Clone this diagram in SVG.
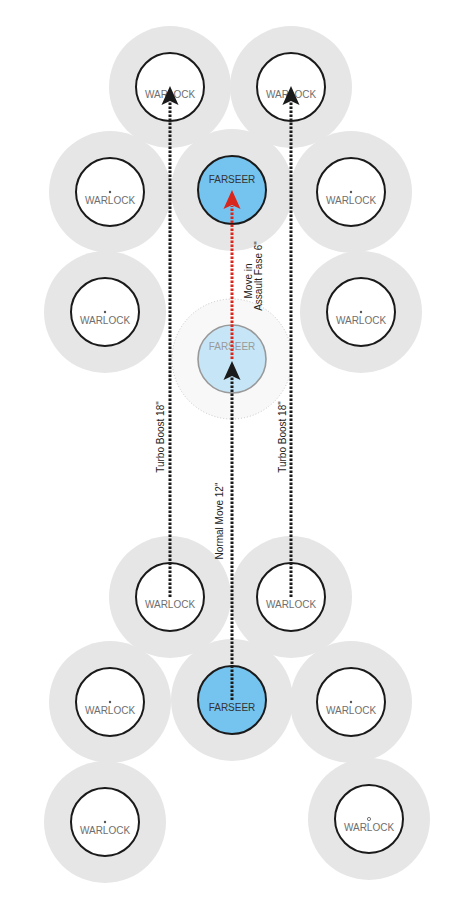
<svg xmlns="http://www.w3.org/2000/svg" width="464" height="906" viewBox="0 0 464 906">
<style>
.halo{fill:#e6e6e6}
.base{fill:#fff;stroke:#1a1a1a;stroke-width:2}
.fs{fill:#75c4ef;stroke:#1a1a1a;stroke-width:2}
.ghost{fill:#c6e6f7;stroke:#999;stroke-width:1.6}
.ghalo{fill:#f8f8f8;stroke:#bbb;stroke-width:0.8;stroke-dasharray:1 2}
.wl{font-family:"Liberation Sans",Arial,sans-serif;font-size:10px;fill:#6e6e6e;text-anchor:middle}
.fl{font-family:"Liberation Sans",Arial,sans-serif;font-size:10px;fill:#333;text-anchor:middle}
.gl{font-family:"Liberation Sans",Arial,sans-serif;font-size:10px;fill:#9a9a9a;text-anchor:middle}
.lbl{font-family:"Liberation Sans",Arial,sans-serif;font-size:10px;fill:#222;text-anchor:middle}
.dot{fill:#555}
.mv{fill:none;stroke:#1a1a1a;stroke-width:3;stroke-dasharray:2.6 1.4}
.mvr{fill:none;stroke:#d8261c;stroke-width:3;stroke-dasharray:2.6 1.4}
</style>
<defs>
<path id="ah" d="M0,0 L8.5,19 L0,15 L-8.5,19 Z"/>
</defs>
<g id="halos">
<circle class="halo" cx="170" cy="87" r="61"/>
<circle class="halo" cx="291" cy="87" r="61"/>
<circle class="halo" cx="110" cy="192" r="61"/>
<circle class="halo" cx="232" cy="190" r="61"/>
<circle class="halo" cx="351" cy="192" r="61"/>
<circle class="halo" cx="105" cy="312" r="61"/>
<circle class="halo" cx="361" cy="312" r="61"/>
<circle class="halo" cx="170" cy="597" r="61"/>
<circle class="halo" cx="291" cy="597" r="61"/>
<circle class="halo" cx="110" cy="702" r="61"/>
<circle class="halo" cx="232" cy="700" r="61"/>
<circle class="halo" cx="351" cy="702" r="61"/>
<circle class="halo" cx="105" cy="822" r="61"/>
<circle class="halo" cx="369" cy="819" r="61"/>
<circle class="ghalo" cx="232" cy="359" r="60"/>
</g>
<g id="warlock-top-left"><circle class="base" cx="170" cy="87" r="34"/><text class="wl" x="170" y="98">WARLOCK</text></g>
<g id="warlock-top-right"><circle class="base" cx="291" cy="87" r="34"/><text class="wl" x="291" y="98">WARLOCK</text></g>
<g id="warlock-r2-left"><circle class="base" cx="110" cy="192" r="34"/><circle class="dot" cx="110" cy="192" r="1.2"/><text class="wl" x="110" y="204">WARLOCK</text></g>
<g id="farseer-top"><circle class="fs" cx="232" cy="190" r="34"/><text class="fl" x="232" y="183">FARSEER</text></g>
<g id="warlock-r2-right"><circle class="base" cx="351" cy="192" r="34"/><circle class="dot" cx="351" cy="192" r="1.2"/><text class="wl" x="351" y="204">WARLOCK</text></g>
<g id="warlock-r3-left"><circle class="base" cx="105" cy="312" r="34"/><circle class="dot" cx="105" cy="312" r="1.2"/><text class="wl" x="105" y="324">WARLOCK</text></g>
<g id="warlock-r3-right"><circle class="base" cx="361" cy="312" r="34"/><circle class="dot" cx="361" cy="312" r="1.2"/><text class="wl" x="361" y="324">WARLOCK</text></g>
<g id="farseer-ghost"><circle class="ghost" cx="232" cy="359" r="34"/><text class="gl" x="232" y="350">FARSEER</text></g>
<g id="warlock-b1-left"><circle class="base" cx="170" cy="597" r="34"/><text class="wl" x="170" y="608">WARLOCK</text></g>
<g id="warlock-b1-right"><circle class="base" cx="291" cy="597" r="34"/><text class="wl" x="291" y="608">WARLOCK</text></g>
<g id="warlock-b2-left"><circle class="base" cx="110" cy="702" r="34"/><circle class="dot" cx="110" cy="702" r="1.2"/><text class="wl" x="110" y="714">WARLOCK</text></g>
<g id="farseer-bottom"><circle class="fs" cx="232" cy="700" r="34"/><text class="fl" x="232" y="711">FARSEER</text></g>
<g id="warlock-b2-right"><circle class="base" cx="351" cy="702" r="34"/><circle class="dot" cx="351" cy="702" r="1.2"/><text class="wl" x="351" y="714">WARLOCK</text></g>
<g id="warlock-b3-left"><circle class="base" cx="105" cy="822" r="34"/><circle class="dot" cx="105" cy="822" r="1.2"/><text class="wl" x="105" y="834">WARLOCK</text></g>
<g id="warlock-b3-right"><circle class="base" cx="369" cy="819" r="34"/><circle cx="369" cy="819" r="1.6" fill="none" stroke="#555" stroke-width="0.8"/><text class="wl" x="369" y="831">WARLOCK</text></g>
<g id="connectors">
<line class="mv" x1="170" y1="597" x2="170" y2="102"/>
<use href="#ah" x="170" y="86" fill="#1a1a1a"/>
<line class="mv" x1="291" y1="597" x2="291" y2="102"/>
<use href="#ah" x="291" y="86" fill="#1a1a1a"/>
<line class="mv" x1="232" y1="700" x2="232" y2="377"/>
<use href="#ah" x="232" y="361" fill="#1a1a1a"/>
<line class="mvr" x1="232" y1="359" x2="232" y2="206"/>
<use href="#ah" x="232" y="190" fill="#d8261c"/>
</g>
<g id="labels">
<text class="lbl" transform="translate(164,437) rotate(-90)">Turbo Boost 18"</text>
<text class="lbl" transform="translate(286,437) rotate(-90)">Turbo Boost 18"</text>
<text class="lbl" transform="translate(223,521) rotate(-90)">Normal Move 12"</text>
<text class="lbl" transform="translate(252,281) rotate(-90)">Move in</text>
<text class="lbl" transform="translate(262,276) rotate(-90)">Assault Fase 6"</text>
</g>
</svg>
